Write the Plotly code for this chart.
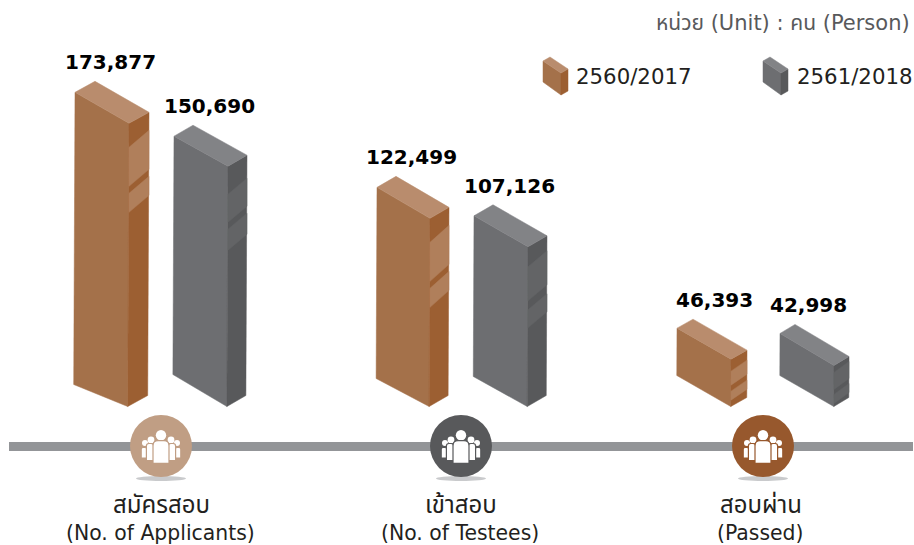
import plotly.graph_objects as go

# ---- data ----
categories_th = ["สมัครสอบ", "เข้าสอบ", "สอบผ่าน"]
categories_en = ["(No. of Applicants)", "(No. of Testees)", "(Passed)"]
years = ["2560/2017", "2561/2018"]
values_2560 = [173877, 122499, 46393]
values_2561 = [150690, 107126, 42998]
unit_text = "หน่วย (Unit) : คน (Person)"

# ---- scale: the reference uses a truncated linear axis ----
W_PX, H_PX = 914, 545
BASE_VALUE = 20800      # value sitting on the bars' floor
BASE_PX = 406.5         # pixel row of that floor
PX_PER_UNIT = 0.00185


def value_at(px):
    return BASE_VALUE + (BASE_PX - px) / PX_PER_UNIT


def paper(px):
    return 1 - px / H_PX


# ---- styles ----
ORANGE = dict(front="#A4714A", top="#B98C6D", side="#9C5F32", band="#B07F5B")
GREY = dict(front="#6D6E71", top="#828386", side="#58595B", band="#636466")
FONT = "DejaVu Sans, Noto Sans Thai, Noto Sans, sans-serif"
INK = "#231F20"

# ---- per bar geometry (pixels) ----
bars = [
    dict(g=0, s=0, fx=129, w=54, d=20, drop=31, rise=11, low=22, lx=-19, slope=17, bands=[(24, 63), (70, 89)]),
    dict(g=0, s=1, fx=228, w=54, d=19, drop=30, rise=11, low=32, lx=-19, slope=16, bands=[(28, 56), (63, 84)]),
    dict(g=1, s=0, fx=430, w=53, d=19, drop=31, rise=11, low=28, lx=-19, slope=17, bands=[(24, 63), (70, 89)]),
    dict(g=1, s=1, fx=528, w=54, d=19, drop=31, rise=11, low=30, lx=-19, slope=16, bands=[(20, 54), (63, 81)]),
    dict(g=2, s=0, fx=731, w=54, d=16, drop=31, rise=9, low=31, lx=-17, slope=11, bands=[(12, 26), (32, 41)]),
    dict(g=2, s=1, fx=834, w=54, d=15, drop=32, rise=9, low=31, lx=-26, slope=11, bands=[(7, 24), (29, 38)]),
]

fig = go.Figure()


def poly(xs, ys, color, name):
    fig.add_trace(go.Scatter(
        x=xs + xs[:1], y=ys + ys[:1], mode="lines", fill="toself", fillcolor=color,
        line=dict(width=0.5, color=color), hoverinfo="skip", showlegend=False, name=name))


def cuboid(fx, top, base, w, d, drop, rise, low, pal, name, bands=(), slope=0, lean=0.0):
    u = 1 / PX_PER_UNIT
    ln = lean * (top - base) * PX_PER_UNIT
    # front face
    poly([fx - w, fx, fx - ln, fx - w - ln],
         [top + drop * u, top, base, base + low * u], pal["front"], name)
    # side face
    poly([fx, fx + d, fx + d - ln, fx - ln],
         [top, top + rise * u, base + rise * u, base], pal["side"], name)
    # lit bands on the side face
    for a, b in bands:
        poly([fx, fx + d, fx + d, fx],
             [top - a * u, top - (a - slope) * u, top - (b - slope) * u, top - b * u], pal["band"], name)
    # top face
    poly([fx - w, fx - w + d, fx + d, fx],
         [top + drop * u, top + (drop + rise) * u, top + rise * u, top], pal["top"], name)


series = [values_2560, values_2561]
pals = [ORANGE, GREY]
annotations = []

for b in bars:
    v = series[b["s"]][b["g"]]
    cuboid(b["fx"], v, BASE_VALUE, b["w"], b["d"], b["drop"], b["rise"], b["low"],
           pals[b["s"]], years[b["s"]], b["bands"], b["slope"], lean=0.0046)
    annotations.append(dict(
        x=b["fx"] + b["lx"], xref="x", y=v + (b["drop"] + b["rise"] + 19) / PX_PER_UNIT, yref="y",
        text=f"<b>{v:,}</b>", showarrow=False, xanchor="center", yanchor="middle",
        font=dict(family=FONT, size=20, color="#000000")))

# legend bricks
legend_px = [(561, 574), (781, 795)]
for i, (fx, tx) in enumerate(legend_px):
    cuboid(fx, value_at(73), value_at(95), 18, 7, 12, 4, 13, pals[i], years[i])
    annotations.append(dict(x=tx, xref="x", y=paper(76.5), yref="paper", text=years[i], showarrow=False,
                            xanchor="left", yanchor="middle", font=dict(family=FONT, size=21.3, color=INK)))

annotations.append(dict(x=912, xref="x", y=paper(23), yref="paper", text=unit_text, showarrow=False,
                        xanchor="right", yanchor="middle", font=dict(family=FONT, size=21, color="#58595B")))

# ---- timeline and badges ----
shapes = [dict(type="rect", xref="x", yref="paper", x0=9, x1=913, y0=paper(451), y1=paper(442),
               fillcolor="#939598", line_width=0, layer="below")]


def abs_path(cx, cy, cmds):
    out = []
    for c in cmds:
        if isinstance(c, str):
            out.append(c)
        else:
            out.append(f"{cx + c[0]:.2f},{paper(cy + c[1]):.5f}")
    return " ".join(out)


def circle(cx, cy, r, color, layer="above"):
    return dict(type="circle", xref="x", yref="paper", x0=cx - r, x1=cx + r, y0=paper(cy + r), y1=paper(cy - r),
                fillcolor=color, line_width=0, layer=layer)


def body(mx, w, top, bot, r):
    """rounded-shoulder torso, offsets from the badge centre"""
    return ["M", (mx - w, bot), "L", (mx - w, top + r), "Q", (mx - w, top), (mx - w + r, top),
            "L", (mx + w - r, top), "Q", (mx + w, top), (mx + w, top + r), "L", (mx + w, bot), "Z"]


def torso(cx, cy, cmds, edge):
    return dict(type="path", xref="x", yref="paper", fillcolor="#FFFFFF", layer="above",
                line=dict(color=edge, width=1.2), path=abs_path(cx, cy, cmds))


badges = [(161, "#C09E84"), (461, "#58595B"), (763, "#97582D")]
for cx, col in badges:
    cy = 446
    shapes.append(dict(type="circle", xref="x", yref="paper", x0=cx - 25, x1=cx + 25, y0=paper(481), y1=paper(476),
                       fillcolor="#C9CACC", line_width=0, layer="above"))
    shapes.append(circle(cx, cy, 31, col))
    for sgn in (-1, 1):
        shapes.append(circle(cx + sgn * 16, cy - 3, 3, "#FFFFFF"))
        shapes.append(torso(cx, cy, body(sgn * 17, 2.8, 1.5, 12, 2), col))
        shapes.append(circle(cx + sgn * 10, cy - 6, 3.4, "#FFFFFF"))
        shapes.append(torso(cx, cy, body(sgn * 11, 3.6, -2.5, 14.5, 2.5), col))
    shapes.append(circle(cx, cy - 10.7, 5.2, "#FFFFFF"))
    shapes.append(torso(cx, cy, body(0, 8, -5.3, 17.3, 5), col))

# ---- category captions ----
for cx, th, en in zip([161, 461, 761], categories_th, categories_en):
    annotations.append(dict(x=cx, xref="x", y=paper(505), yref="paper", text=th, showarrow=False,
                            xanchor="center", yanchor="middle", font=dict(family=FONT, size=24, color=INK)))
    annotations.append(dict(x=cx - 1, xref="x", y=paper(533), yref="paper", text=en, showarrow=False,
                            xanchor="center", yanchor="middle", font=dict(family=FONT, size=20.4, color=INK)))

fig.update_layout(
    width=W_PX, height=H_PX, autosize=False,
    margin=dict(l=0, r=0, t=0, b=0),
    paper_bgcolor="#FFFFFF", plot_bgcolor="#FFFFFF",
    xaxis=dict(range=[0, W_PX], visible=False, fixedrange=True),
    yaxis=dict(range=[value_at(H_PX), value_at(0)], visible=False, fixedrange=True),
    shapes=shapes, annotations=annotations, showlegend=False,
)
fig.write_html("out.html", config=dict(displayModeBar=False, responsive=False),
               post_script="document.body.style.margin='0';document.documentElement.style.overflow='hidden';")
